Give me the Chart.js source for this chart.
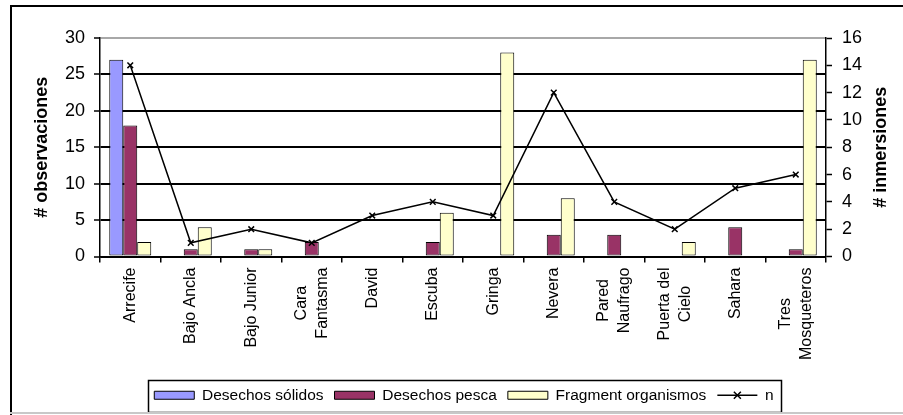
<!DOCTYPE html>
<html><head><meta charset="utf-8">
<script src="https://cdn.jsdelivr.net/npm/chart.js@4/dist/chart.umd.min.js"></script>
<style>html,body{margin:0;padding:0;background:#fff}canvas{display:block}</style>
</head><body>
<canvas id="c" width="903" height="415"></canvas>
<script>
const categories = ['Arrecife','Bajo Ancla','Bajo Junior',['Cara','Fantasma'],'David','Escuba','Gringa','Nevera',['Pared','Naufrago'],['Puerta del','Cielo'],'Sahara',['Tres','Mosqueteros']];
const desechosSolidos    = [27,0,0,0,0,0,0,0,0,0,0,0];
const desechosPesca      = [18,1,1,2,0,2,0,3,3,0,4,1];
const fragmentOrganismos = [2,4,1,0,0,6,28,8,0,2,0,27];
const nInmersiones       = [14,1,2,1,3,4,3,12,4,2,5,6];
const leftTicks  = [0,5,10,15,20,25,30];
const rightTicks = [0,2,4,6,8,10,12,14,16];
const seriesNames = ['Desechos sólidos','Desechos pesca','Fragment organismos','n'];
const axisTitles = ['# observaciones','# inmersiones'];

const FF = '"Liberation Sans", Arial, Helvetica, sans-serif';

const deco = {
  id: 'deco',
  beforeDraw(chart) {
    const ctx = chart.ctx;
    ctx.save(); ctx.fillStyle = '#fff'; ctx.fillRect(0,0,chart.width,chart.height); ctx.restore();
  },
  afterDraw(chart) {
    const ctx = chart.ctx, xs = chart.scales.x, ca = chart.chartArea;
    ctx.save();
    // category labels (rotated, lines centered)
    ctx.font = '16px ' + FF; ctx.fillStyle = '#000';
    ctx.textBaseline = 'middle'; ctx.textAlign = 'center';
    categories.forEach((lab, i) => {
      const lines = Array.isArray(lab) ? lab : [lab];
      const W = Math.max(...lines.map(l => ctx.measureText(l).width));
      const cx = xs.getPixelForValue(i);
      ctx.save(); ctx.translate(cx, ca.bottom + 11); ctx.rotate(-Math.PI/2);
      lines.forEach((l, k) => ctx.fillText(l, -W/2, (k - (lines.length-1)/2) * 21));
      ctx.restore();
    });
    // right axis title (bottom-to-top)
    ctx.font = 'bold 18px ' + FF;
    ctx.save(); ctx.translate(881, (ca.top + ca.bottom)/2); ctx.rotate(-Math.PI/2);
    ctx.fillText(axisTitles[1], 0, 0); ctx.restore();
    // legend border + line symbol
    const lg = chart.legend, hb = lg.legendHitBoxes, items = lg.legendItems;
    if (hb && hb.length) {
      let l = Infinity, r = -Infinity;
      hb.forEach(b => { l = Math.min(l, b.left); r = Math.max(r, b.left + b.width); });
      ctx.strokeStyle = '#000'; ctx.lineWidth = 1.5;
      ctx.strokeRect(Math.round(l - 6) + 0.5, Math.round(lg.top + 3) + 0.5, Math.round(r - l + 14), Math.round(lg.bottom - lg.top - 5));
      items.forEach((it, k) => {
        if (it.datasetIndex !== 3) return;
        const b = hb[k], y = b.top + b.height/2, x0 = b.left, x1 = b.left + 40, xm = (x0 + x1)/2;
        ctx.lineWidth = 1.5; ctx.beginPath(); ctx.moveTo(x0, y); ctx.lineTo(x1, y); ctx.stroke();
        ctx.beginPath(); ctx.moveTo(xm-3.5, y-3.5); ctx.lineTo(xm+3.5, y+3.5); ctx.moveTo(xm+3.5, y-3.5); ctx.lineTo(xm-3.5, y+3.5); ctx.stroke();
      });
    }
    // outer frame
    ctx.strokeStyle = '#000'; ctx.lineWidth = 2;
    ctx.beginPath(); ctx.moveTo(11, 415); ctx.lineTo(11, 6); ctx.lineTo(903, 6); ctx.stroke();
    ctx.strokeStyle = '#c8c8c8'; ctx.lineWidth = 2;
    ctx.beginPath(); ctx.moveTo(10, 413); ctx.lineTo(903, 413); ctx.stroke();
    ctx.restore();
  }
};

const barCommon = { borderColor: '#000', borderWidth: 1, borderSkipped: false, categoryPercentage: 0.694, barPercentage: 1, yAxisID: 'y', order: 1 };

new Chart(document.getElementById('c'), {
  data: {
    labels: categories,
    datasets: [
      Object.assign({ type: 'bar', label: seriesNames[0], data: desechosSolidos, backgroundColor: '#9999FF' }, barCommon),
      Object.assign({ type: 'bar', label: seriesNames[1], data: desechosPesca, backgroundColor: '#993366' }, barCommon),
      Object.assign({ type: 'bar', label: seriesNames[2], data: fragmentOrganismos, backgroundColor: '#FFFFCC' }, barCommon),
      { type: 'line', label: seriesNames[3], data: nInmersiones, yAxisID: 'y1', order: 0,
        borderColor: '#000', borderWidth: 1.5, backgroundColor: '#000', tension: 0, fill: false,
        pointStyle: 'crossRot', pointRadius: 4, pointBorderWidth: 1.5, pointBorderColor: '#000' }
    ]
  },
  options: {
    responsive: false, animation: false,
    layout: { padding: { left: 25, right: 0, top: 38, bottom: 2 } },
    plugins: {
      tooltip: { enabled: false },
      legend: {
        position: 'bottom',
        labels: {
          boxWidth: 40, boxHeight: 8, padding: 11, color: '#000',
          font: { family: FF, size: 15.5 },
          sort: (a, b) => a.datasetIndex - b.datasetIndex,
          generateLabels(chart) {
            const items = Chart.defaults.plugins.legend.labels.generateLabels(chart);
            items.forEach(it => { if (it.datasetIndex === 3) { it.fillStyle = 'rgba(0,0,0,0)'; it.strokeStyle = 'rgba(0,0,0,0)'; it.lineWidth = 0; } });
            return items;
          }
        }
      }
    },
    scales: {
      x: {
        type: 'category', offset: true,
        grid: { offset: true, drawOnChartArea: false, drawTicks: true, tickLength: 6, color: '#000', lineWidth: 1.5 },
        border: { color: '#000', width: 1.5 },
        ticks: { display: false },
        afterFit: s => { s.height = 120; }
      },
      y: {
        position: 'left', min: leftTicks[0], max: leftTicks[leftTicks.length-1],
        ticks: { stepSize: leftTicks[1]-leftTicks[0], color: '#000', font: { family: FF, size: 18 }, padding: 9 },
        grid: { color: c => (c.tick && c.tick.value === leftTicks[leftTicks.length-1]) ? '#a8a8a8' : '#000', lineWidth: 2, tickLength: 6, tickColor: '#000', tickWidth: 1.5 },
        border: { color: '#000', width: 1.5 },
        title: { display: true, text: axisTitles[0], color: '#000', font: { family: FF, size: 18, weight: 'bold' }, padding: { top: 6, bottom: 0 } },
        afterFit: s => { s.width = 75; }
      },
      y1: {
        position: 'right', min: rightTicks[0], max: rightTicks[rightTicks.length-1],
        ticks: { stepSize: rightTicks[1]-rightTicks[0], color: '#000', font: { family: FF, size: 18 }, padding: 10 },
        grid: { drawOnChartArea: false, tickLength: 6, color: '#000', tickWidth: 1.5 },
        border: { color: '#000', width: 1.5 },
        afterFit: s => { s.width = 77; }
      }
    }
  },
  plugins: [deco]
});
</script>
</body></html>
